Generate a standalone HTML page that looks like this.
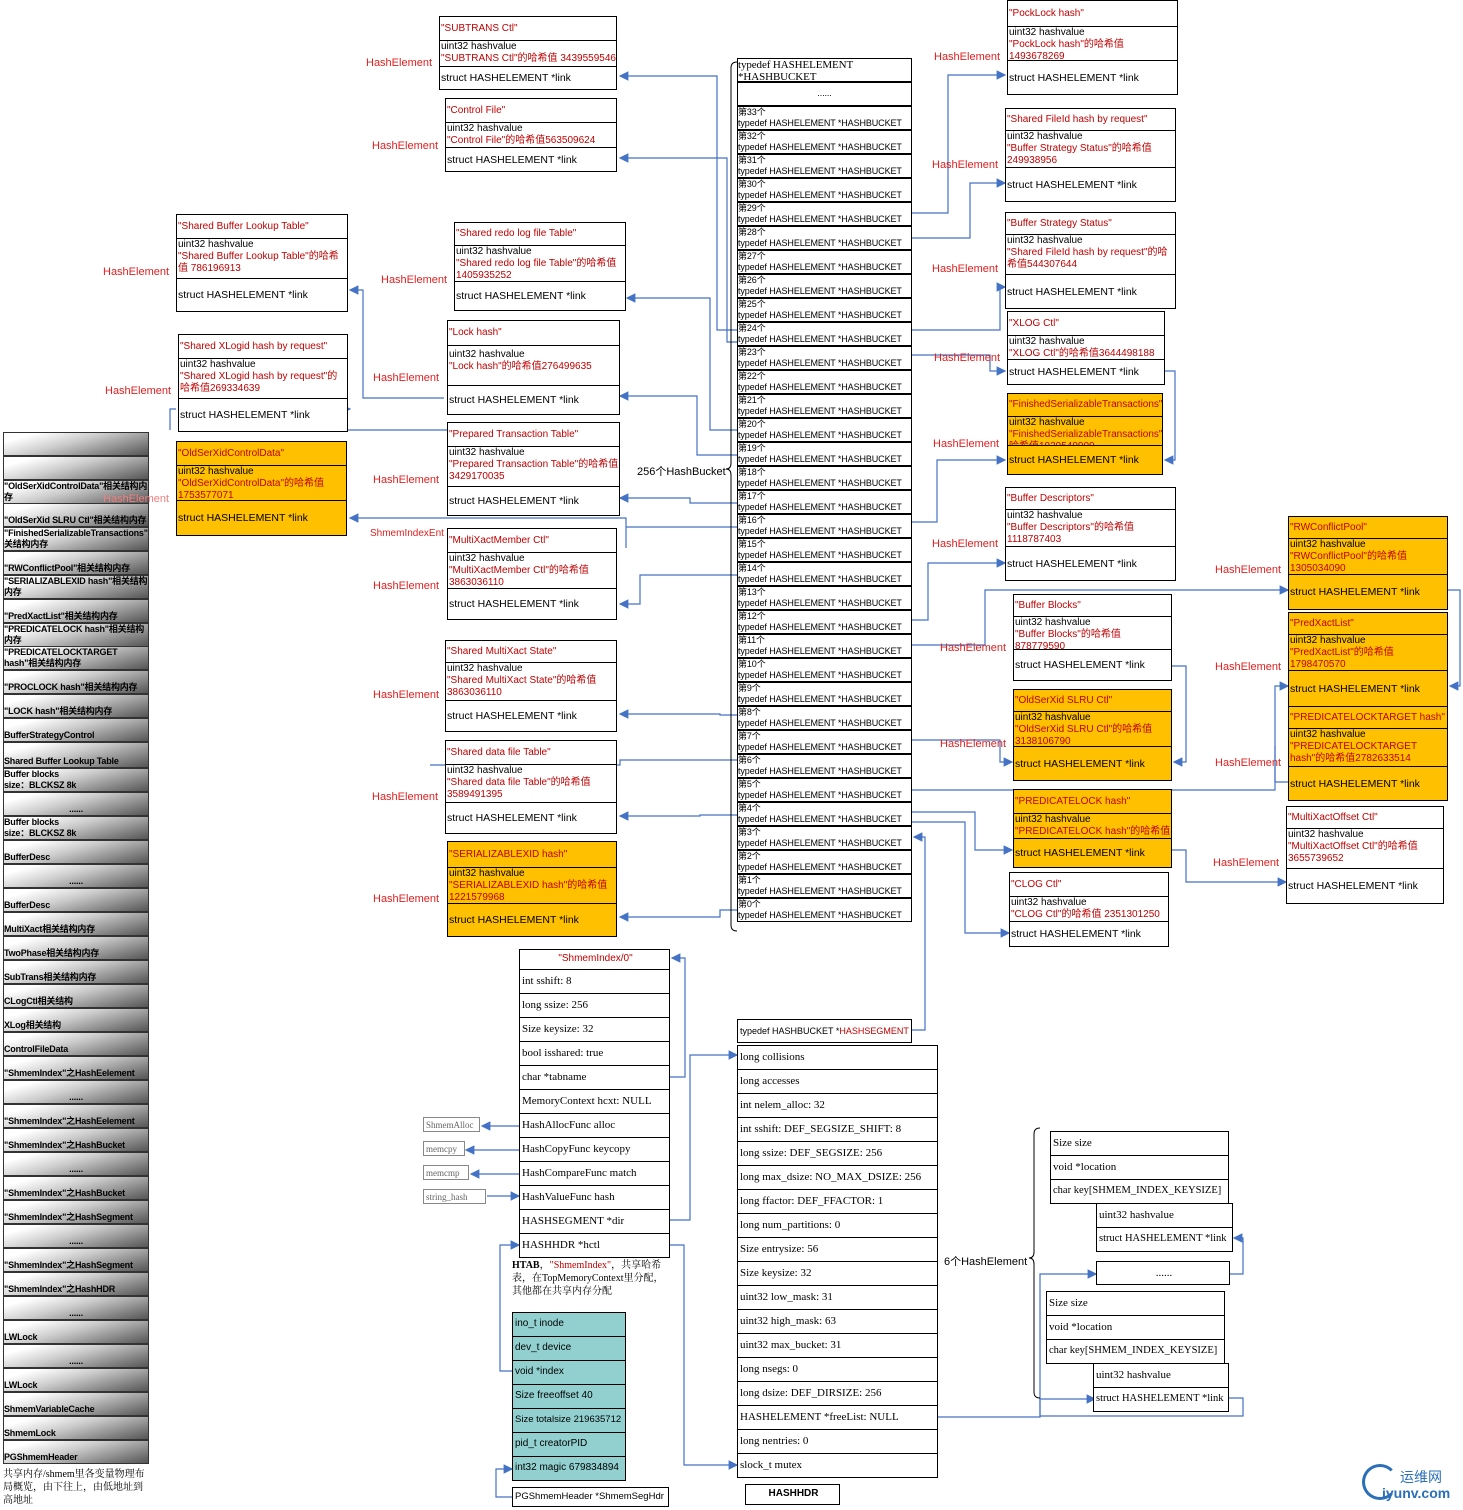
<!DOCTYPE html>
<html><head><meta charset="utf-8">
<style>
body{margin:0;width:1463px;height:1510px;position:relative;background:#fff;overflow:hidden;font-family:"Liberation Sans","Noto Sans CJK SC",sans-serif;font-size:10px;color:#000}
.e{position:absolute;border:1px solid #000;background:#fff;box-sizing:border-box}
.e>div{border-bottom:1px solid #000;box-sizing:border-box;overflow:hidden;line-height:12px;padding-left:1px}
.e>div:last-child{border-bottom:none;display:flex;align-items:center;font-size:10.5px}
.e>div:first-child{display:flex;align-items:center;color:#c00000}
.y{background:#ffc000}
r{color:#c00000}
.he{position:absolute;color:#e02020;font-size:11px}
.g{position:absolute;left:3px;width:146px;height:24px;box-sizing:border-box;border:1px solid #333;background:linear-gradient(165deg,#fff 15%,#ccc 45%,#555 100%);font-weight:bold;font-size:9px;line-height:11px;display:flex;align-items:flex-end;overflow:hidden;letter-spacing:-0.2px}
.c{position:absolute;left:737px;width:175px;height:24px;border:1px solid #000;box-sizing:border-box;font-size:9px;line-height:11px;background:#fff;white-space:nowrap;overflow:hidden;letter-spacing:-0.1px}
.s{position:absolute;border:1px solid #000;box-sizing:border-box;background:#fff;font-family:"Liberation Serif","Noto Serif CJK SC",serif;font-size:11px;line-height:22px;padding-left:2px;white-space:nowrap;overflow:hidden}
.tq{background:#92d0d0;font-family:"Liberation Sans",sans-serif;font-size:10px}
.sm{position:absolute;border:1px solid #888;font-family:"Liberation Serif",serif;font-size:9px;color:#666;height:15px;line-height:14px;padding-left:2px;box-sizing:border-box;width:57px}
</style></head><body>

<div class="g" style="top:432px"></div>
<div class="g" style="top:456px"></div>
<div class="g" style="top:480px">"OldSerXidControlData"相关结构内存</div>
<div class="g" style="top:503px">"OldSerXid SLRU Ctl"相关结构内存</div>
<div class="g" style="top:527px">"FinishedSerializableTransactions"相关结构内存</div>
<div class="g" style="top:551px">"RWConflictPool"相关结构内存</div>
<div class="g" style="top:575px">"SERIALIZABLEXID hash"相关结构内存</div>
<div class="g" style="top:599px">"PredXactList"相关结构内存</div>
<div class="g" style="top:623px">"PREDICATELOCK hash"相关结构内存</div>
<div class="g" style="top:646px">"PREDICATELOCKTARGET hash"相关结构内存</div>
<div class="g" style="top:670px">"PROCLOCK hash"相关结构内存</div>
<div class="g" style="top:694px">"LOCK hash"相关结构内存</div>
<div class="g" style="top:718px">BufferStrategyControl</div>
<div class="g" style="top:742px;height:26px">Shared Buffer Lookup Table</div>
<div class="g" style="top:768px">Buffer blocks<br>size：BLCKSZ 8k</div>
<div class="g" style="top:792px;justify-content:center">......</div>
<div class="g" style="top:816px">Buffer blocks<br>size：BLCKSZ 8k</div>
<div class="g" style="top:840px">BufferDesc</div>
<div class="g" style="top:864px;justify-content:center">......</div>
<div class="g" style="top:888px">BufferDesc</div>
<div class="g" style="top:912px">MultiXact相关结构内存</div>
<div class="g" style="top:936px">TwoPhase相关结构内存</div>
<div class="g" style="top:960px">SubTrans相关结构内存</div>
<div class="g" style="top:984px">CLogCtl相关结构</div>
<div class="g" style="top:1008px">XLog相关结构</div>
<div class="g" style="top:1032px">ControlFileData</div>
<div class="g" style="top:1056px">"ShmemIndex"之HashEelement</div>
<div class="g" style="top:1080px;justify-content:center">......</div>
<div class="g" style="top:1104px">"ShmemIndex"之HashEelement</div>
<div class="g" style="top:1128px">"ShmemIndex"之HashBucket</div>
<div class="g" style="top:1152px;justify-content:center">......</div>
<div class="g" style="top:1176px">"ShmemIndex"之HashBucket</div>
<div class="g" style="top:1200px">"ShmemIndex"之HashSegment</div>
<div class="g" style="top:1224px;justify-content:center">......</div>
<div class="g" style="top:1248px">"ShmemIndex"之HashSegment</div>
<div class="g" style="top:1272px">"ShmemIndex"之HashHDR</div>
<div class="g" style="top:1296px;justify-content:center">......</div>
<div class="g" style="top:1320px">LWLock</div>
<div class="g" style="top:1344px;justify-content:center">......</div>
<div class="g" style="top:1368px">LWLock</div>
<div class="g" style="top:1392px">ShmemVariableCache</div>
<div class="g" style="top:1416px">ShmemLock</div>
<div class="g" style="top:1440px">PGShmemHeader</div>
<div style="position:absolute;left:3px;top:1468px;width:145px;font-size:10px;line-height:13px;font-family:'Liberation Serif','Noto Serif CJK SC',serif">共享内存/shmem里各变量物理布局概览，由下往上，由低地址到高地址</div>

<svg style="position:absolute;left:0;top:0" width="1463" height="1510">
<defs><marker id="a" markerWidth="8" markerHeight="8" refX="7" refY="4" orient="auto"><path d="M0,0L8,4L0,8z" fill="#4472c4"/></marker></defs>
<g fill="none" stroke="#4472c4" stroke-width="1.2">
<polyline points="737,330 717,330 717,76 620,76" marker-end="url(#a)"/>
<polyline points="737,342 727,342 727,158 620,158" marker-end="url(#a)"/>
<polyline points="737,430 710,430 710,298 627,298" marker-end="url(#a)"/>
<polyline points="737,455 697,455 697,396 620,396" marker-end="url(#a)"/>
<polyline points="737,503 690,503 690,498 620,498" marker-end="url(#a)"/>
<polyline points="737,527 626,527 626,548 626,548 626,518 350,518" marker-end="url(#a)"/>
<polyline points="737,575 640,575 640,604 620,604" marker-end="url(#a)"/>
<polyline points="737,715 720,715 720,714 620,714" marker-end="url(#a)"/>
<polyline points="737,760 620,760 620,765 430,765" />
<polyline points="737,815 700,815 700,816 620,816" marker-end="url(#a)"/>
<polyline points="737,910 720,910 720,917 620,917" marker-end="url(#a)"/>
<polyline points="444,398 363,398 363,290 350,290" marker-end="url(#a)"/>
<polyline points="447,430 262,430 262,409 350,409" marker-end="url(#a)"/>
<polyline points="176,409 170,409 170,430" />
<polyline points="912,213 948,213 948,75 1005,75" marker-end="url(#a)"/>
<polyline points="912,238 970,238 970,183 1005,183" marker-end="url(#a)"/>
<polyline points="912,330 1000,330 1000,287 1005,287" marker-end="url(#a)"/>
<polyline points="912,355 990,355 990,371 1005,371" marker-end="url(#a)"/>
<polyline points="1165,371 1175,371 1175,460 1165,460" marker-end="url(#a)"/>
<polyline points="912,522 937,522 937,460 1005,460" marker-end="url(#a)"/>
<polyline points="912,620 928,620 928,563 1005,563" marker-end="url(#a)"/>
<polyline points="912,645 985,645 985,590 1288,590" marker-end="url(#a)"/>
<polyline points="1448,590 1460,590 1460,686 1450,686" marker-end="url(#a)"/>
<polyline points="1172,666 1186,666 1186,762 1174,762" marker-end="url(#a)"/>
<polyline points="912,740 1000,740 1000,762 1012,762" marker-end="url(#a)"/>
<polyline points="912,790 1275,790 1275,686 1288,686" marker-end="url(#a)"/>
<polyline points="1288,782 1275,782 1275,746" />
<polyline points="912,812 975,812 975,850 1012,850" marker-end="url(#a)"/>
<polyline points="1172,850 1186,850 1186,882 1286,882" marker-end="url(#a)"/>
<polyline points="912,822 965,822 965,933 1009,933" marker-end="url(#a)"/>
<polyline points="912,1030 925,1030 925,837 914,837" marker-end="url(#a)"/>
<polyline points="669,1220 690,1220 690,1055 737,1055" marker-end="url(#a)"/>
<polyline points="669,1077 685,1077 685,958 672,958" marker-end="url(#a)"/>
<polyline points="669,1245 684,1245 684,1465 737,1465" marker-end="url(#a)"/>
<polyline points="519,1126 482,1126" marker-end="url(#a)"/>
<polyline points="519,1150 466,1150" marker-end="url(#a)"/>
<polyline points="519,1174 471,1174" marker-end="url(#a)"/>
<polyline points="487,1196 519,1196" marker-end="url(#a)"/>
<polyline points="512,1371 500,1371 500,1245 519,1245" marker-end="url(#a)"/>
<polyline points="512,1497 496,1497 496,1469 512,1469" marker-end="url(#a)"/>
<polyline points="937,1417 1040,1417 1040,1274 1096,1274" marker-end="url(#a)"/>
<polyline points="1230,1274 1243,1274 1243,1238 1234,1238" marker-end="url(#a)"/>
<polyline points="1229,1398 1243,1398 1243,1416 1040,1416 1040,1399 1095,1399" marker-end="url(#a)"/>
</g>
<g fill="none" stroke="#000" stroke-width="1">
<path d="M737,62 q-6,0 -6,6 v395 q0,6 -5,6 q5,0 5,6 v450 q0,6 6,6"/>
<path d="M1040,1128 q-6,0 -6,6 v118 q0,6 -5,6 q5,0 5,6 v128 q0,6 6,6"/>
</g>
</svg>

<div class="c" style="top:58px;height:24px;font-family:'Liberation Serif',serif;font-size:11px;line-height:12px">typedef HASHELEMENT<br>*HASHBUCKET</div>
<div class="c" style="top:82px;text-align:center;line-height:20px">......</div>
<div class="c" style="top:106px">第33个<br>typedef HASHELEMENT *HASHBUCKET</div>
<div class="c" style="top:130px">第32个<br>typedef HASHELEMENT *HASHBUCKET</div>
<div class="c" style="top:154px">第31个<br>typedef HASHELEMENT *HASHBUCKET</div>
<div class="c" style="top:178px">第30个<br>typedef HASHELEMENT *HASHBUCKET</div>
<div class="c" style="top:202px">第29个<br>typedef HASHELEMENT *HASHBUCKET</div>
<div class="c" style="top:226px">第28个<br>typedef HASHELEMENT *HASHBUCKET</div>
<div class="c" style="top:250px">第27个<br>typedef HASHELEMENT *HASHBUCKET</div>
<div class="c" style="top:274px">第26个<br>typedef HASHELEMENT *HASHBUCKET</div>
<div class="c" style="top:298px">第25个<br>typedef HASHELEMENT *HASHBUCKET</div>
<div class="c" style="top:322px">第24个<br>typedef HASHELEMENT *HASHBUCKET</div>
<div class="c" style="top:346px">第23个<br>typedef HASHELEMENT *HASHBUCKET</div>
<div class="c" style="top:370px">第22个<br>typedef HASHELEMENT *HASHBUCKET</div>
<div class="c" style="top:394px">第21个<br>typedef HASHELEMENT *HASHBUCKET</div>
<div class="c" style="top:418px">第20个<br>typedef HASHELEMENT *HASHBUCKET</div>
<div class="c" style="top:442px">第19个<br>typedef HASHELEMENT *HASHBUCKET</div>
<div class="c" style="top:466px">第18个<br>typedef HASHELEMENT *HASHBUCKET</div>
<div class="c" style="top:490px">第17个<br>typedef HASHELEMENT *HASHBUCKET</div>
<div class="c" style="top:514px">第16个<br>typedef HASHELEMENT *HASHBUCKET</div>
<div class="c" style="top:538px">第15个<br>typedef HASHELEMENT *HASHBUCKET</div>
<div class="c" style="top:562px">第14个<br>typedef HASHELEMENT *HASHBUCKET</div>
<div class="c" style="top:586px">第13个<br>typedef HASHELEMENT *HASHBUCKET</div>
<div class="c" style="top:610px">第12个<br>typedef HASHELEMENT *HASHBUCKET</div>
<div class="c" style="top:634px">第11个<br>typedef HASHELEMENT *HASHBUCKET</div>
<div class="c" style="top:658px">第10个<br>typedef HASHELEMENT *HASHBUCKET</div>
<div class="c" style="top:682px">第9个<br>typedef HASHELEMENT *HASHBUCKET</div>
<div class="c" style="top:706px">第8个<br>typedef HASHELEMENT *HASHBUCKET</div>
<div class="c" style="top:730px">第7个<br>typedef HASHELEMENT *HASHBUCKET</div>
<div class="c" style="top:754px">第6个<br>typedef HASHELEMENT *HASHBUCKET</div>
<div class="c" style="top:778px">第5个<br>typedef HASHELEMENT *HASHBUCKET</div>
<div class="c" style="top:802px">第4个<br>typedef HASHELEMENT *HASHBUCKET</div>
<div class="c" style="top:826px">第3个<br>typedef HASHELEMENT *HASHBUCKET</div>
<div class="c" style="top:850px">第2个<br>typedef HASHELEMENT *HASHBUCKET</div>
<div class="c" style="top:874px">第1个<br>typedef HASHELEMENT *HASHBUCKET</div>
<div class="c" style="top:898px">第0个<br>typedef HASHELEMENT *HASHBUCKET</div>
<div style="position:absolute;left:637px;top:463px;font-size:11px">256个HashBucket</div>

<div class="e" style="left:439px;top:16px;width:178px"><div style="height:24px">"SUBTRANS Ctl"</div><div style="height:26px">uint32 hashvalue<br><r>"SUBTRANS Ctl"的哈希值 3439559546</r></div><div style="height:22px">struct HASHELEMENT *link</div></div>
<div class="e" style="left:445px;top:98px;width:172px"><div style="height:24px">"Control File"</div><div style="height:25px">uint32 hashvalue<br><r>"Control File"的哈希值563509624</r></div><div style="height:23px">struct HASHELEMENT *link</div></div>
<div class="e" style="left:454px;top:222px;width:172px"><div style="height:23px">"Shared redo log file Table"</div><div style="height:36px">uint32 hashvalue<br><r>"Shared redo log file Table"的哈希值<br>1405935252</r></div><div style="height:28px">struct HASHELEMENT *link</div></div>
<div class="e" style="left:447px;top:320px;width:173px"><div style="height:25px">"Lock hash"</div><div style="height:40px;padding-top:3px">uint32 hashvalue<br><r>"Lock hash"的哈希值276499635</r></div><div style="height:28px">struct HASHELEMENT *link</div></div>
<div class="e" style="left:447px;top:422px;width:173px"><div style="height:24px">"Prepared Transaction Table"</div><div style="height:40px">uint32 hashvalue<br><r>"Prepared Transaction Table"的哈希值 3429170035</r></div><div style="height:28px">struct HASHELEMENT *link</div></div>
<div class="e" style="left:447px;top:528px;width:170px"><div style="height:24px">"MultiXactMember Ctl"</div><div style="height:36px">uint32 hashvalue<br><r>"MultiXactMember Ctl"的哈希值<br>3863036110</r></div><div style="height:30px">struct HASHELEMENT *link</div></div>
<div class="e" style="left:445px;top:640px;width:172px"><div style="height:22px">"Shared MultiXact State"</div><div style="height:38px">uint32 hashvalue<br><r>"Shared MultiXact State"的哈希值<br>3863036110</r></div><div style="height:30px">struct HASHELEMENT *link</div></div>
<div class="e" style="left:445px;top:740px;width:172px"><div style="height:24px">"Shared data file Table"</div><div style="height:38px">uint32 hashvalue<br><r>"Shared data file Table"的哈希值<br>3589491395</r></div><div style="height:30px">struct HASHELEMENT *link</div></div>
<div class="e y" style="left:447px;top:841px;width:170px"><div style="height:26px">"SERIALIZABLEXID hash"</div><div style="height:36px">uint32 hashvalue<br><r>"SERIALIZABLEXID hash"的哈希值<br>1221579968</r></div><div style="height:32px">struct HASHELEMENT *link</div></div>

<div class="e" style="left:176px;top:214px;width:172px"><div style="height:24px">"Shared Buffer Lookup Table"</div><div style="height:40px">uint32 hashvalue<br><r>"Shared Buffer Lookup Table"的哈希值 786196913</r></div><div style="height:32px">struct HASHELEMENT *link</div></div>
<div class="e" style="left:178px;top:334px;width:170px"><div style="height:24px">"Shared XLogid hash by request"</div><div style="height:40px">uint32 hashvalue<br><r>"Shared XLogid hash by request"的哈希值269334639</r></div><div style="height:32px">struct HASHELEMENT *link</div></div>
<div class="e y" style="left:176px;top:441px;width:171px"><div style="height:24px">"OldSerXidControlData"</div><div style="height:35px">uint32 hashvalue<br><r>"OldSerXidControlData"的哈希值<br>1753577071</r></div><div style="height:34px">struct HASHELEMENT *link</div></div>

<div class="e" style="left:1007px;top:0px;width:171px"><div style="height:26px">"PockLock hash"</div><div style="height:34px">uint32 hashvalue<br><r>"PockLock hash"的哈希值<br>1493678269</r></div><div style="height:33px">struct HASHELEMENT *link</div></div>
<div class="e" style="left:1005px;top:108px;width:171px"><div style="height:22px">"Shared FileId hash by request"</div><div style="height:37px">uint32 hashvalue<br><r>"Buffer Strategy Status"的哈希值<br>249938956</r></div><div style="height:33px">struct HASHELEMENT *link</div></div>
<div class="e" style="left:1005px;top:212px;width:171px"><div style="height:22px">"Buffer Strategy Status"</div><div style="height:40px">uint32 hashvalue<br><r>"Shared FileId hash by request"的哈希值544307644</r></div><div style="height:33px">struct HASHELEMENT *link</div></div>
<div class="e" style="left:1007px;top:311px;width:158px"><div style="height:24px">"XLOG Ctl"</div><div style="height:24px">uint32 hashvalue<br><r>"XLOG Ctl"的哈希值3644498188</r></div><div style="height:24px">struct HASHELEMENT *link</div></div>
<div class="e y" style="left:1007px;top:393px;width:156px"><div style="height:23px">"FinishedSerializableTransactions"</div><div style="height:29px">uint32 hashvalue<br><r>"FinishedSerializableTransactions"的哈希值1939549900</r></div><div style="height:28px">struct HASHELEMENT *link</div></div>
<div class="e" style="left:1005px;top:487px;width:171px"><div style="height:22px">"Buffer Descriptors"</div><div style="height:37px">uint32 hashvalue<br><r>"Buffer Descriptors"的哈希值<br>1118787403</r></div><div style="height:33px">struct HASHELEMENT *link</div></div>
<div class="e" style="left:1013px;top:594px;width:159px"><div style="height:22px">"Buffer Blocks"</div><div style="height:33px">uint32 hashvalue<br><r>"Buffer Blocks"的哈希值<br>878779590</r></div><div style="height:30px">struct HASHELEMENT *link</div></div>
<div class="e y" style="left:1013px;top:689px;width:159px"><div style="height:22px">"OldSerXid SLRU Ctl"</div><div style="height:35px">uint32 hashvalue<br><r>"OldSerXid SLRU Ctl"的哈希值<br>3138106790</r></div><div style="height:33px">struct HASHELEMENT *link</div></div>
<div class="e y" style="left:1013px;top:789px;width:159px"><div style="height:24px">"PREDICATELOCK hash"</div><div style="height:25px">uint32 hashvalue<br><r>"PREDICATELOCK hash"的哈希值</r></div><div style="height:28px">struct HASHELEMENT *link</div></div>
<div class="e" style="left:1009px;top:872px;width:160px"><div style="height:24px">"CLOG Ctl"</div><div style="height:25px">uint32 hashvalue<br><r>"CLOG Ctl"的哈希值 2351301250</r></div><div style="height:24px">struct HASHELEMENT *link</div></div>

<div class="e y" style="left:1288px;top:516px;width:160px"><div style="height:22px">"RWConflictPool"</div><div style="height:36px">uint32 hashvalue<br><r>"RWConflictPool"的哈希值<br>1305034090</r></div><div style="height:34px">struct HASHELEMENT *link</div></div>
<div class="e y" style="left:1288px;top:612px;width:160px"><div style="height:22px">"PredXactList"</div><div style="height:36px">uint32 hashvalue<br><r>"PredXactList"的哈希值<br>1798470570</r></div><div style="height:36px">struct HASHELEMENT *link</div></div>
<div class="e y" style="left:1288px;top:706px;width:160px"><div style="height:22px">"PREDICATELOCKTARGET hash"</div><div style="height:38px">uint32 hashvalue<br><r>"PREDICATELOCKTARGET hash"的哈希值2782633514</r></div><div style="height:33px">struct HASHELEMENT *link</div></div>
<div class="e" style="left:1286px;top:806px;width:158px"><div style="height:22px">"MultiXactOffset Ctl"</div><div style="height:40px">uint32 hashvalue<br><r>"MultiXactOffset Ctl"的哈希值<br>3655739652</r></div><div style="height:34px">struct HASHELEMENT *link</div></div>

<div class="he" style="left:366px;top:57px">HashElement</div>
<div class="he" style="left:372px;top:140px">HashElement</div>
<div class="he" style="left:103px;top:266px">HashElement</div>
<div class="he" style="left:381px;top:274px">HashElement</div>
<div class="he" style="left:373px;top:372px">HashElement</div>
<div class="he" style="left:105px;top:385px">HashElement</div>
<div class="he" style="left:373px;top:474px">HashElement</div>
<div class="he" style="left:103px;top:493px;color:#f08080">HashElement</div>
<div class="he" style="left:370px;top:528px;font-size:10px">ShmemIndexEnt</div>
<div class="he" style="left:373px;top:580px">HashElement</div>
<div class="he" style="left:373px;top:689px">HashElement</div>
<div class="he" style="left:372px;top:791px">HashElement</div>
<div class="he" style="left:373px;top:893px">HashElement</div>
<div class="he" style="left:934px;top:51px">HashElement</div>
<div class="he" style="left:932px;top:159px">HashElement</div>
<div class="he" style="left:932px;top:263px">HashElement</div>
<div class="he" style="left:934px;top:352px">HashElement</div>
<div class="he" style="left:933px;top:438px">HashElement</div>
<div class="he" style="left:932px;top:538px">HashElement</div>
<div class="he" style="left:940px;top:642px">HashElement</div>
<div class="he" style="left:940px;top:738px">HashElement</div>
<div class="he" style="left:1215px;top:564px">HashElement</div>
<div class="he" style="left:1215px;top:661px">HashElement</div>
<div class="he" style="left:1215px;top:757px">HashElement</div>
<div class="he" style="left:1213px;top:857px">HashElement</div>

<div class="s" style="left:519px;top:949px;width:151px;height:21px;line-height:18px;text-align:center;color:#c00000;font-family:'Liberation Sans',sans-serif;font-size:10px">"ShmemIndex/0"</div>
<div class="s" style="left:519px;top:969px;width:151px;height:25px">int sshift: 8</div>
<div class="s" style="left:519px;top:993px;width:151px;height:25px">long ssize: 256</div>
<div class="s" style="left:519px;top:1017px;width:151px;height:25px">Size keysize: 32</div>
<div class="s" style="left:519px;top:1041px;width:151px;height:25px">bool isshared: true</div>
<div class="s" style="left:519px;top:1065px;width:151px;height:25px">char *tabname</div>
<div class="s" style="left:519px;top:1089px;width:151px;height:25px">MemoryContext hcxt: NULL</div>
<div class="s" style="left:519px;top:1113px;width:151px;height:25px">HashAllocFunc alloc</div>
<div class="s" style="left:519px;top:1137px;width:151px;height:25px">HashCopyFunc keycopy</div>
<div class="s" style="left:519px;top:1161px;width:151px;height:25px">HashCompareFunc match</div>
<div class="s" style="left:519px;top:1185px;width:151px;height:25px">HashValueFunc hash</div>
<div class="s" style="left:519px;top:1209px;width:151px;height:25px">HASHSEGMENT *dir</div>
<div class="s" style="left:519px;top:1233px;width:151px;height:25px">HASHHDR *hctl</div>
<div class="sm" style="left:423px;top:1117px">ShmemAlloc</div>
<div class="sm" style="left:423px;top:1141px;width:42px">memcpy</div>
<div class="sm" style="left:423px;top:1165px;width:46px">memcmp</div>
<div class="sm" style="left:423px;top:1189px;width:63px">string_hash</div>
<div style="position:absolute;left:512px;top:1259px;width:160px;font-size:10px;line-height:13px;font-family:'Liberation Serif','Noto Serif CJK SC',serif"><b>HTAB</b>，<r>"ShmemIndex"</r>，共享哈希表，在TopMemoryContext里分配，其他都在共享内存分配</div>

<div class="s tq" style="left:512px;top:1312px;width:114px;height:25px">ino_t inode</div>
<div class="s tq" style="left:512px;top:1336px;width:114px;height:25px">dev_t device</div>
<div class="s tq" style="left:512px;top:1360px;width:114px;height:25px">void *index</div>
<div class="s tq" style="left:512px;top:1384px;width:114px;height:25px">Size freeoffset 40</div>
<div class="s tq" style="left:512px;top:1408px;width:114px;height:25px;font-size:9.5px">Size totalsize 219635712</div>
<div class="s tq" style="left:512px;top:1432px;width:114px;height:25px">pid_t creatorPID</div>
<div class="s tq" style="left:512px;top:1456px;width:114px;height:25px">int32 magic 679834894</div>
<div class="s" style="left:512px;top:1487px;width:157px;height:20px;line-height:18px;font-size:9.5px;font-family:'Liberation Sans',sans-serif">PGShmemHeader *ShmemSegHdr</div>

<div class="s" style="left:737px;top:1019px;width:175px;height:24px;font-size:9px;font-family:'Liberation Sans',sans-serif">typedef HASHBUCKET *<r>HASHSEGMENT</r></div>
<div class="s" style="left:737px;top:1045px;width:201px;height:25px">long collisions</div>
<div class="s" style="left:737px;top:1069px;width:201px;height:25px">long accesses</div>
<div class="s" style="left:737px;top:1093px;width:201px;height:25px">int nelem_alloc: 32</div>
<div class="s" style="left:737px;top:1117px;width:201px;height:25px">int sshift: DEF_SEGSIZE_SHIFT: 8</div>
<div class="s" style="left:737px;top:1141px;width:201px;height:25px">long ssize: DEF_SEGSIZE: 256</div>
<div class="s" style="left:737px;top:1165px;width:201px;height:25px">long max_dsize: NO_MAX_DSIZE: 256</div>
<div class="s" style="left:737px;top:1189px;width:201px;height:25px">long ffactor: DEF_FFACTOR: 1</div>
<div class="s" style="left:737px;top:1213px;width:201px;height:25px">long num_partitions: 0</div>
<div class="s" style="left:737px;top:1237px;width:201px;height:25px">Size entrysize: 56</div>
<div class="s" style="left:737px;top:1261px;width:201px;height:25px">Size keysize: 32</div>
<div class="s" style="left:737px;top:1285px;width:201px;height:25px">uint32 low_mask: 31</div>
<div class="s" style="left:737px;top:1309px;width:201px;height:25px">uint32 high_mask: 63</div>
<div class="s" style="left:737px;top:1333px;width:201px;height:25px">uint32 max_bucket: 31</div>
<div class="s" style="left:737px;top:1357px;width:201px;height:25px">long nsegs: 0</div>
<div class="s" style="left:737px;top:1381px;width:201px;height:25px">long dsize: DEF_DIRSIZE: 256</div>
<div class="s" style="left:737px;top:1405px;width:201px;height:25px">HASHELEMENT *freeList: NULL</div>
<div class="s" style="left:737px;top:1429px;width:201px;height:25px">long nentries: 0</div>
<div class="s" style="left:737px;top:1453px;width:201px;height:25px">slock_t mutex</div>
<div class="s" style="left:745px;top:1484px;width:95px;height:21px;line-height:18px;text-align:center;font-weight:bold;font-family:'Liberation Sans',sans-serif;font-size:10px">HASHHDR</div>

<div style="position:absolute;left:944px;top:1253px;font-size:11px">6个HashElement</div>
<div class="s" style="left:1050px;top:1131px;width:179px;height:25px">Size size</div>
<div class="s" style="left:1050px;top:1155px;width:179px;height:25px">void *location</div>
<div class="s" style="left:1050px;top:1179px;width:179px;height:25px;font-size:10.5px">char key[SHMEM_INDEX_KEYSIZE]</div>
<div class="s" style="left:1096px;top:1203px;width:137px;height:25px">uint32 hashvalue</div>
<div class="s" style="left:1096px;top:1227px;width:137px;height:25px;font-size:10.5px">struct HASHELEMENT *link</div>
<div class="s" style="left:1096px;top:1261px;width:134px;height:24px;text-align:center">......</div>
<div class="s" style="left:1046px;top:1291px;width:179px;height:25px">Size size</div>
<div class="s" style="left:1046px;top:1315px;width:179px;height:25px">void *location</div>
<div class="s" style="left:1046px;top:1339px;width:179px;height:25px;font-size:10.5px">char key[SHMEM_INDEX_KEYSIZE]</div>
<div class="s" style="left:1093px;top:1363px;width:136px;height:25px">uint32 hashvalue</div>
<div class="s" style="left:1093px;top:1387px;width:136px;height:25px;font-size:10.5px">struct HASHELEMENT *link</div>

<div style="position:absolute;left:1362px;top:1464px;width:36px;height:36px;border:3px solid #2a6fb8;border-radius:50%;border-right-color:transparent;box-sizing:border-box"></div>
<div style="position:absolute;left:1400px;top:1467px;font-size:14px;color:#2a6fb8">运维网</div>
<div style="position:absolute;left:1382px;top:1485px;font-size:14px;color:#2a6fb8;font-weight:bold">iyunv.com</div>
</body></html>
